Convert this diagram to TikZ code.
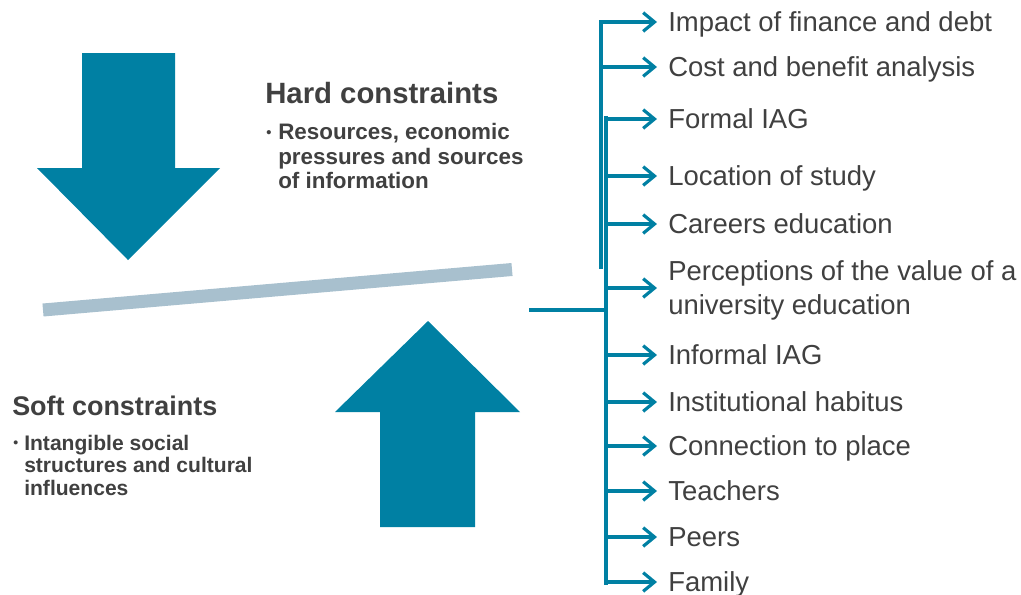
\documentclass[tikz,border=0pt]{standalone}
\usepackage{fontspec}
\setmainfont{Liberation Sans}
\usetikzlibrary{arrows.meta}
\definecolor{petrol}{RGB}{0,128,163}
\definecolor{beam}{RGB}{168,192,206}
\definecolor{ink}{RGB}{64,64,64}
\begin{document}
\begin{tikzpicture}[x=0.75pt, y=-0.75pt, txt/.style={text=ink, inner sep=0pt},
  itemfont/.style={font=\fontsize{20.6}{25.5}\selectfont},
  item/.style={txt, itemfont, anchor=west, inner xsep=8.25pt, text height=14.8pt, text depth=0pt},
  trunk/.style={petrol, line width=2.4pt, line cap=rect},
  branch/.style={petrol, line width=2.4pt, -{Straight Barb[length=8.5pt,width=14pt]}}]
  \useasboundingbox (0,0) rectangle (1021,594);
  % block arrows pressing on the balance bar
  \fill[petrol] (82,53) -- (175,53) -- (175,168) -- (220,168) -- (128,260) -- (37,168) -- (82,168) -- cycle;
  \fill[petrol] (380,527) -- (475,527) -- (475,412) -- (520,412) -- (428,321) -- (335,412) -- (380,412) -- cycle;
  \draw[beam, line width=9.75pt] (43,310) -- (512,269.5);
  \node[txt, anchor=west, font=\bfseries\fontsize{22}{26}\selectfont] (hard) at (265,93) {Hard constraints};
  \node[txt, anchor=base west, font=\bfseries\fontsize{11}{12}\selectfont] (hardbul) at (266,137) {\textbullet};
  \node[txt, anchor=north west, align=left, font=\bfseries\fontsize{16.8}{18.4}\selectfont] (hardtxt) at (278,123)
    {Resources, economic\\pressures and sources\\of information};
  \node[txt, anchor=west, font=\bfseries\fontsize{20.2}{24}\selectfont] (soft) at (12,406) {Soft constraints};
  \node[txt, anchor=base west, font=\bfseries\fontsize{10.5}{12}\selectfont] (softbul) at (13,447.5) {\textbullet};
  \node[txt, anchor=north west, align=left, font=\bfseries\fontsize{15.8}{16.9}\selectfont] (softtxt) at (24,434.5)
    {Intangible social\\structures and cultural\\influences};
  % trunk of the factor list
  \coordinate (feed) at (531,310); \coordinate (hub) at (606,310);
  \coordinate (upA) at (601,22); \coordinate (upB) at (601,267);
  \coordinate (loA) at (606,118); \coordinate (loB) at (606,583);
  \draw[trunk] (upA) -- (upB); \draw[trunk] (loA) -- (loB); \draw[trunk] (feed) -- (hub);
  \foreach \y/\x/\t [count=\i] in {22/601/Impact of finance and debt, 67/601/Cost and benefit analysis,
      119/606/Formal IAG, 176/606/Location of study, 224/606/Careers education, 355/606/Informal IAG,
      402/606/Institutional habitus, 446/606/Connection to place, 491/606/Teachers, 537/606/Peers, 582/606/Family} {
    \coordinate (j\i) at (\x,\y);
    \node[item] (it\i) at (657,\y) {\t};
    \draw[branch] (j\i) -- (j\i -| it\i.west);
  }
  \coordinate (jp) at (606,288);
  \node[txt, itemfont, anchor=west, align=left, inner xsep=8.25pt] (percep) at (657,290)
    {Perceptions of the value of a\\university education};
  \draw[branch] (jp) -- (jp -| percep.west);
\end{tikzpicture}
\end{document}
